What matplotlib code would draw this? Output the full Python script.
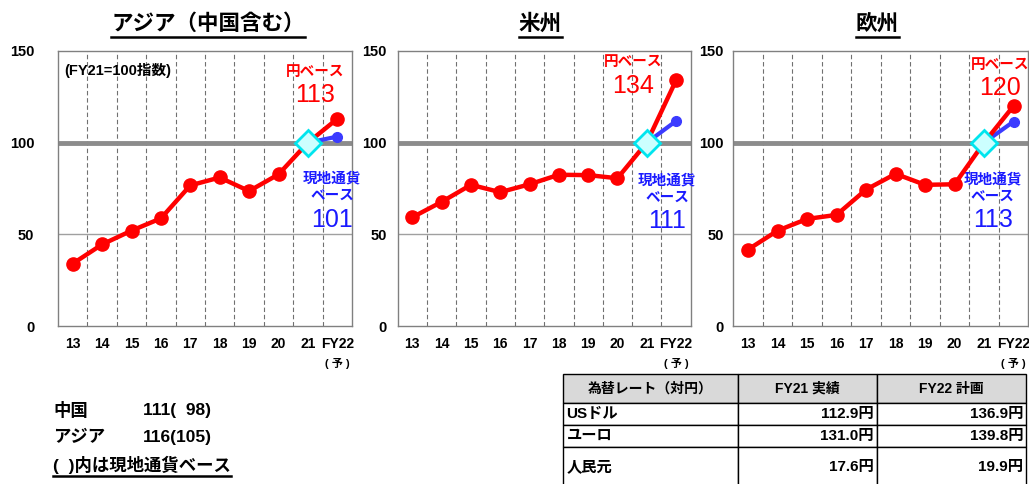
import matplotlib.pyplot as plt
from matplotlib.lines import Line2D

FONT = ['Liberation Sans', 'Noto Sans CJK JP']
plt.rcParams['font.family'] = FONT

# データ (FY21=100指数)
years = ['13', '14', '15', '16', '17', '18', '19', '20', '21', 'FY22']
titles = ['アジア（中国含む）', '米州', '欧州']
yen_base = [
    [34, 44.5, 52, 58.7, 76.7, 81, 73.6, 82.7, 100, 113],
    [59.3, 67.7, 77, 73, 77.3, 82.5, 82.3, 80.6, 100, 134],
    [41.7, 52, 58.4, 60.6, 74.4, 83, 77, 77.3, 100, 120],
]
local_base = [
    [100, 103.3],
    [100, 111.8],
    [100, 111.5],
]
yen_label = ['113', '134', '120']
local_label = ['101', '111', '113']

summary_names = ['中国', 'アジア']
summary_vals = ['111(  98)', '116(105)']

fx_header = ['為替レート（対円）', 'FY21 実績', 'FY22 計画']
fx_rows = [
    ['USドル', '112.9円', '136.9円'],
    ['ユーロ', '131.0円', '139.8円'],
    ['人民元', '17.6円', '19.9円'],
]

W, H = 1029, 484
fig = plt.figure(figsize=(W / 100, H / 100), dpi=100)

# 配置 (ピクセル)
panel_left = [58, 397.7, 733.3]
panel_w = [294, 293, 295]
panel_top, panel_bot = 51, 326
title_x = [208, 540, 877]
ypad = [17, 8, 7]
# テキスト位置 (データ座標)
yen_txt = [(8.24, 138.6, 126), (7.53, 144, 131), (8.54, 142.5, 130)]
loc_txt = [(8.82, 80.7, 70.9, 57.8), (8.69, 79.4, 70, 57.5), (8.3, 80, 70.7, 57.8)]

RED = '#ff0000'
BLUE = '#3b3bff'
GRAY = '#8c8c8c'

underline_texts = []

for i in range(3):
    ax = fig.add_axes([panel_left[i] / W, 1 - panel_bot / H,
                       panel_w[i] / W, (panel_bot - panel_top) / H])
    x = list(range(len(years)))
    ax.set_xlim(-0.5, len(years) - 0.5)
    ax.set_ylim(0, 150)
    for b in range(len(years) - 1):
        ax.axvline(b + 0.5, color='#707070', lw=0.8, ls=(0, (4, 2.5)), zorder=1)
    ax.axhline(50, color='#a0a0a0', lw=1.0, zorder=1)
    ax.axhline(100, color=GRAY, lw=3.5, zorder=1)
    ax.plot(x[-2:], local_base[i], color=BLUE, lw=3, marker='o', ms=7, zorder=3)
    ax.plot(x, yen_base[i], color=RED, lw=3.2, marker='o', ms=9.5, zorder=4)
    ax.plot([x[-2]], [yen_base[i][-2]], ls='none', marker='D', ms=13,
            mfc='#ccffff', mec='#00e5ee', mew=2, zorder=5)

    ax.set_xticks(x)
    ax.set_xticklabels(years, fontsize=10, fontweight='bold')
    ax.set_yticks([0, 50, 100, 150])
    ax.set_yticklabels(['0', '50', '100', '150'], fontsize=10.5, fontweight='bold')
    ax.tick_params(axis='x', length=0, pad=8)
    ax.tick_params(axis='y', length=0, pad=ypad[i])
    for s in ax.spines.values():
        s.set_color('#808080')
        s.set_linewidth(1.0)
    ax.text(x[-1], -17.5, '( 予 )', fontsize=8, fontweight='bold',
            ha='center', va='top', clip_on=False)

    tx, ty1, ty2 = yen_txt[i]
    ax.text(tx, ty1, '円ベース', color=RED, fontsize=10.5, fontweight='bold',
            ha='center', va='center', clip_on=False)
    ax.text(tx, ty2, yen_label[i], color=RED, fontsize=18,
            ha='center', va='center', clip_on=False)
    lx, ly1, ly2, ly3 = loc_txt[i]
    ax.text(lx, ly1, '現地通貨', color='#1a1aff', fontsize=10.5, fontweight='bold',
            ha='center', va='center', clip_on=False)
    ax.text(lx, ly2, 'ベース', color='#1a1aff', fontsize=10.5, fontweight='bold',
            ha='center', va='center', clip_on=False)
    ax.text(lx, ly3, local_label[i], color='#1a1aff', fontsize=18,
            ha='center', va='center', clip_on=False)
    if i == 0:
        ax.text(0.02, 0.93, '(FY21=100指数)', transform=ax.transAxes,
                fontsize=10.5, fontweight='bold', ha='left', va='center')

    t = fig.text(title_x[i] / W, 1 - 24 / H, titles[i], fontsize=15.5,
                 fontweight='bold', ha='center', va='center')
    underline_texts.append(t)

# 下のテキスト
for k in range(len(summary_names)):
    yy = 1 - (410 + 27.5 * k) / H
    fig.text(53 / W, yy, summary_names[k], fontsize=12.5, fontweight='bold',
             ha='left', va='center')
    fig.text(143 / W, yy, summary_vals[k], fontsize=12.5, fontweight='bold',
             ha='left', va='center')
note = fig.text(53 / W, 1 - 465 / H, '(  )内は現地通貨ベース', fontsize=12.5,
                fontweight='bold', ha='left', va='center')
underline_texts.append(note)

# 為替レート表
tab_ax = fig.add_axes([563 / W, 1 - 487 / H, (1026 - 563) / W, (487 - 374) / H])
tab_ax.axis('off')
tbl = tab_ax.table(cellText=fx_rows, colLabels=fx_header,
                   colWidths=[174.7, 139, 149.3], cellLoc='right',
                   colLoc='center', bbox=[0, 0, 1, 1])
tbl.auto_set_font_size(False)
row_h = [29, 22, 22, 40]
for (r, c), cell in tbl.get_celld().items():
    cell.set_height(row_h[r])
    cell.set_edgecolor('black')
    cell.set_linewidth(1.0)
    cell.PAD = 0.02
    txt = cell.get_text()
    txt.set_fontfamily(FONT)
    txt.set_fontweight('bold')
    if r == 0:
        cell.set_facecolor('#d9d9d9')
        txt.set_fontsize(10)
    else:
        txt.set_fontsize(11)
        if c == 0:
            cell._loc = 'left'
            txt.set_ha('left')

# 下線
fig.canvas.draw()
rend = fig.canvas.get_renderer()
for t in underline_texts:
    bb = t.get_window_extent(rend)
    yl = (bb.y0 - 2) / H
    fig.add_artist(Line2D([bb.x0 / W, bb.x1 / W], [yl, yl],
                          transform=fig.transFigure, color='black', lw=1.8))

fig.savefig('out.png', dpi=100)
